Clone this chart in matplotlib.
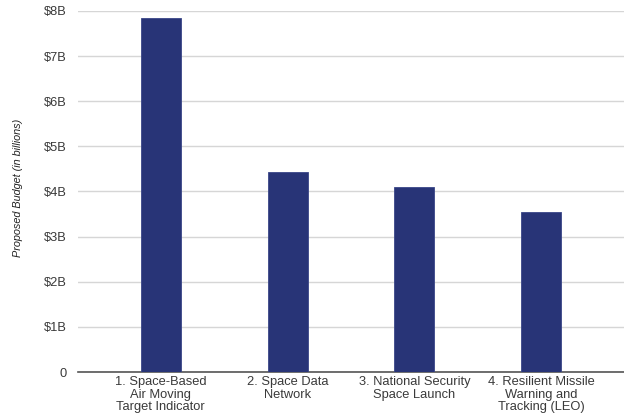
import matplotlib
matplotlib.use('Agg')
import matplotlib.pyplot as plt

categories = ['1. Space-Based\nAir Moving\nTarget Indicator',
              '2. Space Data\nNetwork',
              '3. National Security\nSpace Launch',
              '4. Resilient Missile\nWarning and\nTracking (LEO)']
budget = [7.85, 4.43, 4.10, 3.55]
tick_vals = [0, 1, 2, 3, 4, 5, 6, 7, 8]
tick_labels = ['0', '$1B', '$2B', '$3B', '$4B', '$5B', '$6B', '$7B', '$8B']

plt.rcParams['font.family'] = ['Liberation Sans', 'DejaVu Sans']

fig = plt.figure(figsize=(6.24, 4.15), dpi=100)
ax = fig.add_axes([0.125, 0.1036, 0.875, 0.87])

x = range(len(categories))
ax.bar(x, budget, width=0.315, color='#283477', edgecolor='#3a4688', linewidth=0.6, zorder=3)

ax.set_xlim(-0.65, 3.65)
ax.set_ylim(0, 8)
ax.set_yticks(tick_vals)
ax.set_yticklabels(tick_labels)
ax.set_xticks(list(x))
ax.set_xticklabels(categories, linespacing=1.06)

ax.grid(axis='y', color='#d6d6d6', linewidth=1, zorder=0)
for s in ['top', 'right', 'left']:
    ax.spines[s].set_visible(False)
ax.spines['bottom'].set_color('#555555')
ax.spines['bottom'].set_linewidth(1.2)
ax.tick_params(axis='both', length=0, labelsize=9.3, colors='#3a3a3a')
ax.tick_params(axis='y', pad=8)
ax.tick_params(axis='x', pad=3)

ax.set_ylabel('Proposed Budget (in billions)', fontsize=7.8, fontstyle='italic', color='#222222')
ax.yaxis.set_label_coords(-0.10, 0.51)

fig.savefig('out.png', dpi=100)
